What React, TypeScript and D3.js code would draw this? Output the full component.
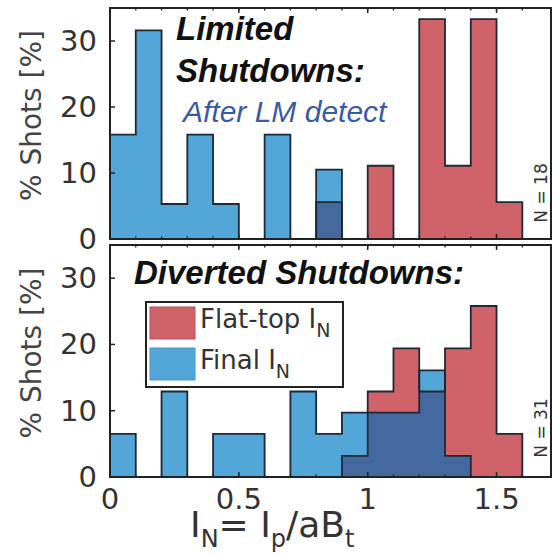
import React from "react";
import * as d3 from "d3";

// ---- data ----
const binEdges = [0, 0.1, 0.2, 0.3, 0.4, 0.5, 0.6, 0.7, 0.8, 0.9, 1.0, 1.1, 1.2, 1.3, 1.4, 1.5, 1.6];
const topFinal = [15.8, 31.6, 5.3, 15.8, 5.3, 0, 15.8, 0, 10.5, 0, 0, 0, 0, 0, 0, 0];
const topFlat = [0, 0, 0, 0, 0, 0, 0, 0, 5.6, 0, 11.1, 0, 33.3, 11.1, 33.3, 5.6];
const botFinal = [6.5, 0, 12.9, 0, 6.5, 6.5, 0, 12.9, 6.5, 9.7, 9.7, 9.7, 16.1, 3.2, 0, 0];
const botFlat = [0, 0, 0, 0, 0, 0, 0, 0, 0, 3.2, 12.9, 19.4, 12.9, 19.4, 25.8, 6.5];
const yTicks = [0, 10, 20, 30];
const xTicks = [0, 0.5, 1, 1.5];
const xTickLabels = ["0", "0.5", "1", "1.5"];
const minorTicks = d3.range(1, 17).map((i) => i / 10);

const RED = "#D0626A";
const BLUE = "#52A6D8";
const DARK = "#44699E";
const EDGE = "#1e2836";

const W = 553;
const H = 556;
const LEFT = 110;
const RIGHT = 551;

const x = d3.scaleLinear().domain([0, (RIGHT - LEFT) / 257.7]).range([LEFT, RIGHT]);

type Pt = [number, number];
function stepPoints(vals: number[]): Pt[] {
  const pts: Pt[] = [[binEdges[0], 0]];
  vals.forEach((v, i) => pts.push([binEdges[i], v]));
  pts.push([binEdges[vals.length], 0]);
  return pts;
}

function Panel({ top, bottom, final, flat, nLabel, nY, showX }: any) {
  const y = d3.scaleLinear().domain([0, 35]).range([bottom, top]);
  const area = d3
    .area<Pt>()
    .x((d) => x(d[0]))
    .y0(y(0))
    .y1((d) => y(d[1]))
    .curve(d3.curveStepAfter);
  const line = d3
    .line<Pt>()
    .x((d) => x(d[0]))
    .y((d) => y(d[1]))
    .curve(d3.curveStepAfter);
  const overlap = final.map((v: number, i: number) => Math.min(v, flat[i]));
  return (
    <g>
      <path d={area(stepPoints(flat)) || ""} fill={RED} />
      <path d={area(stepPoints(final)) || ""} fill={BLUE} />
      <path d={area(stepPoints(overlap)) || ""} fill={DARK} />
      <path d={line(stepPoints(flat)) || ""} fill="none" stroke={EDGE} strokeWidth={1.8} />
      <path d={line(stepPoints(final)) || ""} fill="none" stroke={EDGE} strokeWidth={1.8} />
      {/* frame */}
      <rect x={LEFT} y={top} width={RIGHT - LEFT} height={bottom - top} fill="none" stroke="#222" strokeWidth={2} />
      {yTicks.map((t) => (
        <g key={t}>
          <line x1={LEFT} x2={LEFT + 5} y1={y(t)} y2={y(t)} stroke="#222" strokeWidth={1.5} />
          <text x={97} y={y(t) + 10} textAnchor="end" fontFamily="DejaVu Sans" fontSize={29} fill="#333">
            {t}
          </text>
        </g>
      ))}
      {minorTicks.map((t) => (
        <g key={t}>
          <line x1={x(t)} x2={x(t)} y1={bottom} y2={bottom - 2.5} stroke="#222" strokeWidth={1.3} />
          <line x1={x(t)} x2={x(t)} y1={top} y2={top + 2.5} stroke="#222" strokeWidth={1.3} />
        </g>
      ))}
      {xTicks.map((t, i) => (
        <g key={t}>
          <line x1={x(t)} x2={x(t)} y1={bottom} y2={bottom - 5} stroke="#222" strokeWidth={1.5} />
          <line x1={x(t)} x2={x(t)} y1={top} y2={top + 5} stroke="#222" strokeWidth={1.5} />
          {showX && (
            <text x={x(t)} y={509} textAnchor="middle" fontFamily="DejaVu Sans" fontSize={29} fill="#333">
              {xTickLabels[i]}
            </text>
          )}
        </g>
      ))}
      <text
        transform={`translate(${547},${nY}) rotate(-90)`}
        textAnchor="middle"
        fontFamily="DejaVu Sans"
        fontSize={17}
        fill="#333"
      >
        {nLabel}
      </text>
      <text
        transform={`translate(${41},${(top + bottom) / 2 - 8}) rotate(-90)`}
        textAnchor="middle"
        fontFamily="DejaVu Sans"
        fontSize={28}
        fill="#444"
      >
        % Shots [%]
      </text>
    </g>
  );
}

export default function App() {
  return (
    <svg width={W} height={H} style={{ position: "absolute", left: 0, top: 0, background: "#fff" }}>
      <rect width={W} height={H} fill="#fff" />
      <Panel top={8} bottom={239} final={topFinal} flat={topFlat} nLabel="N = 18" nY={193} showX={false} />
      <Panel top={245} bottom={477} final={botFinal} flat={botFlat} nLabel="N = 31" nY={428} showX={true} />
      {/* titles */}
      <g fontFamily="Liberation Sans" fontStyle="italic">
        <text x={176} y={40} fontWeight="bold" fontSize={33} fill="#111">Limited</text>
        <text x={176} y={82} fontWeight="bold" fontSize={33} fill="#111">Shutdowns:</text>
        <text x={183} y={122} fontSize={30} fill="#3A5AA6">After LM detect</text>
        <text x={134} y={284} fontWeight="bold" fontSize={33} fill="#111">Diverted Shutdowns:</text>
      </g>
      {/* legend */}
      <g>
        <rect x={146} y={302} width={197} height={85} fill="#fff" stroke="#222" strokeWidth={2} />
        <rect x={150} y={307} width={45} height={32} fill={RED} stroke="#b85058" strokeWidth={1} />
        <rect x={150} y={348} width={45} height={32} fill={BLUE} stroke="#4a95c4" strokeWidth={1} />
        <text x={200} y={328} fontFamily="DejaVu Sans" fontSize={26} fill="#333">
          Flat-top I<tspan fontSize={19} dy={9}>N</tspan>
        </text>
        <text x={200} y={369} fontFamily="DejaVu Sans" fontSize={26} fill="#333">
          Final I<tspan fontSize={19} dy={9}>N</tspan>
        </text>
      </g>
      {/* x label */}
      <text x={190} y={537} fontFamily="DejaVu Sans" fontSize={36} fill="#333">
        I<tspan fontSize={24} dy={10}>N</tspan>
        <tspan dy={-10}>= I</tspan>
        <tspan fontSize={24} dy={10}>p</tspan>
        <tspan dy={-10}>/aB</tspan>
        <tspan fontSize={24} dy={10}>t</tspan>
      </text>
    </svg>
  );
}
